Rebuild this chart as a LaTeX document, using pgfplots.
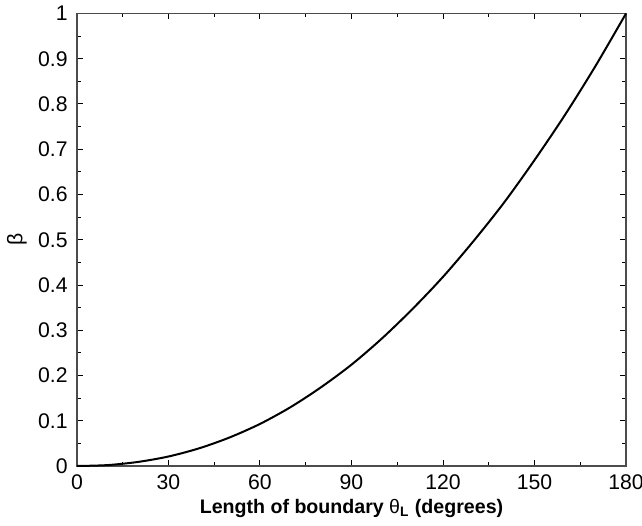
\documentclass[border=0pt]{standalone}
\usepackage{fontspec}
\setmainfont{Liberation Sans}
\usepackage{pgfplots}
\pgfplotsset{compat=1.18}
\begin{document}
\begin{tikzpicture}
\begin{axis}[
  scale only axis=true,
  width=274.5pt, height=226.25pt,
  xmin=0, xmax=180, ymin=0, ymax=1,
  xtick={0,30,60,90,120,150,180},
  minor xtick={15,45,75,105,135,165},
  ytick={0,0.1,0.2,0.3,0.4,0.5,0.6,0.7,0.8,0.9,1},
  yticklabels={0,0.1,0.2,0.3,0.4,0.5,0.6,0.7,0.8,0.9,1},
  minor ytick={0.05,0.15,0.25,0.35,0.45,0.55,0.65,0.75,0.85,0.95},
  tick align=inside,
  major tick length=3pt,
  minor tick length=2pt,
  tick style={black, line width=0.5pt},
  axis line style={black!70, line width=0.6pt},
  /pgf/number format/assume math mode=true,
  ticklabel style={font=\fontsize{10.6}{12}\selectfont},
  xticklabel style={anchor=center, yshift=-8.3pt},
  yticklabel style={anchor=east, inner sep=0pt, xshift=-4.5pt},
  xlabel={\textbf{Length of boundary {\mdseries θ}\textsubscript{L} (degrees)}},
  ylabel={β},
  xlabel style={font=\fontsize{9.8}{12}\selectfont, at={(axis description cs:0.5,0)}, anchor=center, yshift=-21pt},
  ylabel style={font=\fontsize{10.6}{12}\selectfont, at={(axis description cs:0,0.5)}, anchor=center, yshift=30pt},
  clip=false,
]
\addplot[black, line width=1pt, smooth] coordinates {
(0,0) (10,0.002) (20,0.009) (30,0.021) (40,0.039) (50,0.063) (60,0.093)
(70,0.130) (80,0.174) (90,0.224) (100,0.282) (110,0.347) (120,0.418)
(130,0.497) (140,0.582) (150,0.676) (160,0.776) (170,0.884) (180,1.000)
};
\end{axis}
\pgfresetboundingbox
\useasboundingbox (-38.5pt,-29.5pt) rectangle (282.5pt,233pt);
\end{tikzpicture}
\end{document}
